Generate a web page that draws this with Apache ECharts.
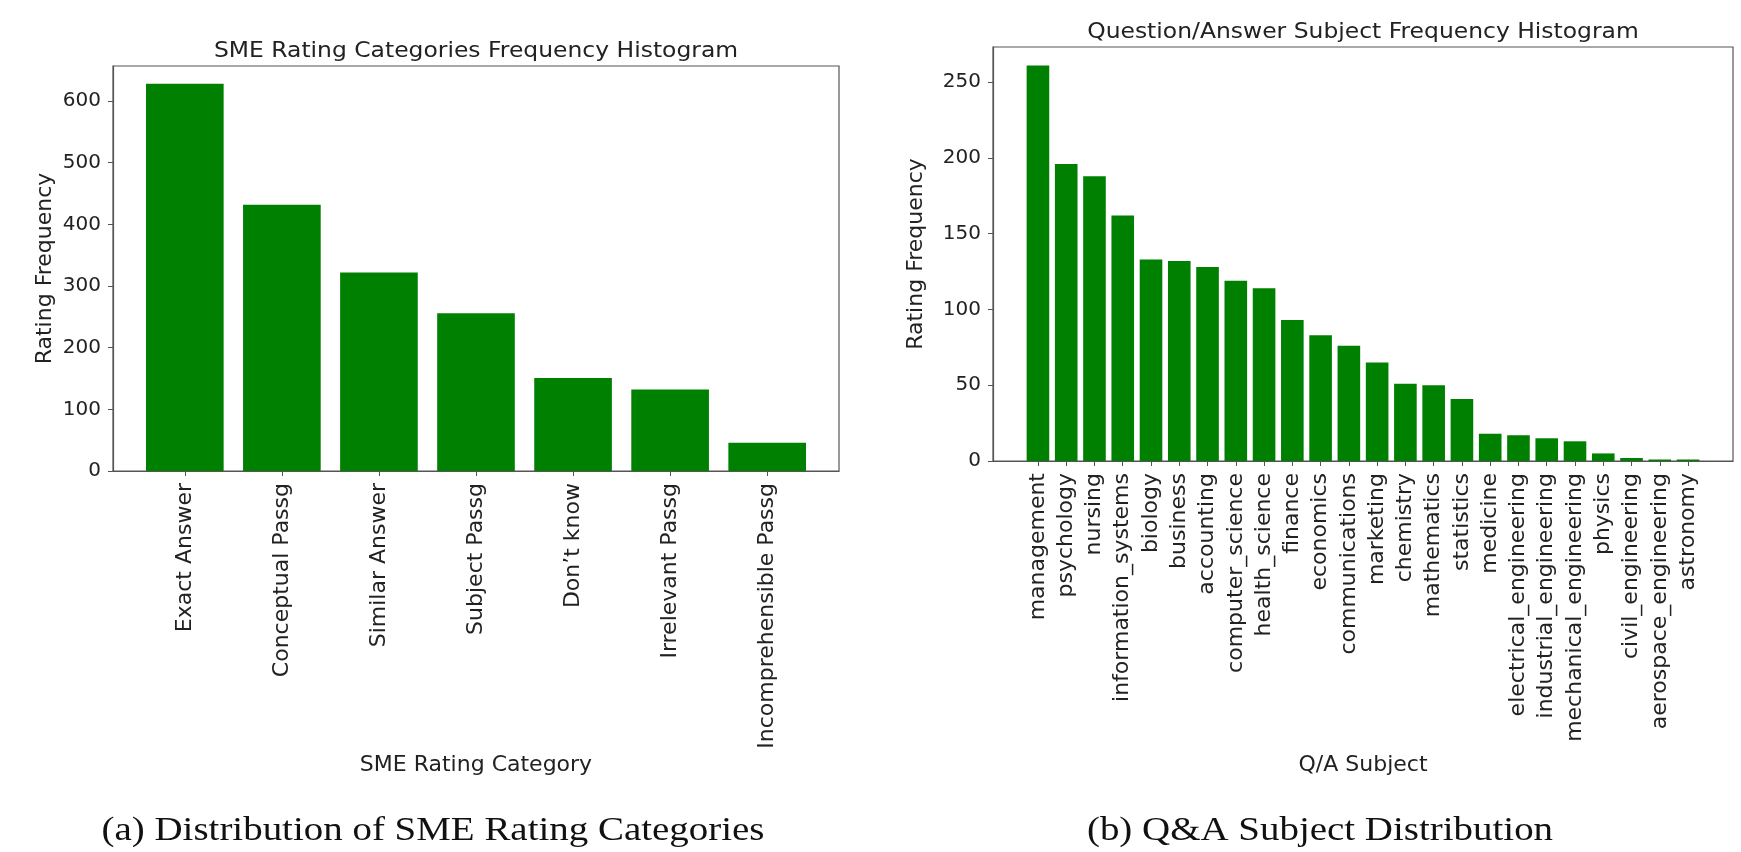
<!DOCTYPE html>
<html>
<head>
<meta charset="utf-8">
<script src="https://cdn.jsdelivr.net/npm/echarts@6/dist/echarts.min.js"></script>
<style>
html,body{margin:0;padding:0;background:#fff;}
#chart{width:1741px;height:852px;}
</style>
</head>
<body>
<div id="chart"></div>
<script>
const smeCategories = ["Exact Answer", "Conceptual Passg", "Similar Answer", "Subject Passg", "Don\u2019t know", "Irrelevant Passg", "Incomprehensible Passg"];
const smeCounts = [628, 432, 322, 256, 151, 132, 46];
const smeYTicks = [0, 100, 200, 300, 400, 500, 600];

const subjects = ["management", "psychology", "nursing", "information_systems", "biology", "business", "accounting", "computer_science", "health_science", "finance", "economics", "communications", "marketing", "chemistry", "mathematics", "statistics", "medicine", "electrical_engineering", "industrial_engineering", "mechanical_engineering", "physics", "civil_engineering", "aerospace_engineering", "astronomy"];
const subjectCounts = [261, 196, 188, 162, 133, 132, 128, 119, 114, 93, 83, 76, 65, 51, 50, 41, 18, 17, 15, 13, 5, 2, 1, 1];
const subjectYTicks = [0, 50, 100, 150, 200, 250];

const W = 1741, H = 852;
const FONT = 'DejaVu Sans';
const TXT = '#222';
const AX = '#555';
const GREEN = '#008000';

// matplotlib-like layout: bar width 0.8, 5% x-margins, 5% y headroom
function xLimits(n) {
  const lo = -0.4, hi = n - 1 + 0.4, m = 0.05 * (hi - lo);
  return [lo - m, hi + m];
}
const g1 = {left: 113, right: W - 839, top: 66, bottom: H - 471};
const g2 = {left: 993, right: W - 1733, top: 47, bottom: H - 461};
const xl1 = xLimits(smeCategories.length);
const xl2 = xLimits(subjects.length);
const bw1 = 0.8 * (W - g1.left - g1.right) / (xl1[1] - xl1[0]);
const bw2 = 0.8 * (W - g2.left - g2.right) / (xl2[1] - xl2[0]);
const yMax1 = Math.max(...smeCounts) * 1.046;
const yMax2 = Math.max(...subjectCounts) * 1.047;

function idx(n) { return Array.from({length: n}, (_, i) => i); }

function makeX(gi, lim, cats, name, gap) {
  return {
    type: 'value', gridIndex: gi, min: lim[0], max: lim[1],
    splitLine: {show: false},
    axisLine: {show: true, onZero: false, lineStyle: {color: AX, width: 1.2}},
    axisTick: {show: true, inside: false, customValues: idx(cats.length), length: 5, lineStyle: {color: AX}},
    axisLabel: {show: true, customValues: idx(cats.length), rotate: 90, margin: 12,
      fontFamily: FONT, fontSize: 22, color: TXT,
      formatter: v => cats[Math.round(v)]},
    name: name, nameLocation: 'middle', nameGap: gap,
    nameTextStyle: {fontFamily: FONT, fontSize: 22, color: TXT}
  };
}
function makeY(gi, max, ticks, gap) {
  return {
    type: 'value', gridIndex: gi, min: 0, max: max,
    splitLine: {show: false},
    axisLine: {show: true, onZero: false, lineStyle: {color: AX, width: 1.2}},
    axisTick: {show: true, inside: false, customValues: ticks, length: 5, lineStyle: {color: AX}},
    axisLabel: {show: true, customValues: ticks, margin: 12,
      fontFamily: FONT, fontSize: 20, color: TXT},
    name: 'Rating Frequency', nameLocation: 'middle', nameGap: gap, nameRotate: 90,
    nameTextStyle: {fontFamily: FONT, fontSize: 22, color: TXT}
  };
}

const chart = echarts.init(document.getElementById('chart'), null, {renderer: 'canvas'});
chart.setOption({
  backgroundColor: '#fff',
  animation: false,
  grid: [
    Object.assign({show: true, borderColor: AX, borderWidth: 1.2, backgroundColor: 'transparent'}, g1),
    Object.assign({show: true, borderColor: AX, borderWidth: 1.2, backgroundColor: 'transparent'}, g2)
  ],
  xAxis: [
    makeX(0, xl1, smeCategories, 'SME Rating Category', 283),
    makeX(1, xl2, subjects, 'Q/A Subject', 293)
  ],
  yAxis: [
    makeY(0, yMax1, smeYTicks, 57),
    makeY(1, yMax2, subjectYTicks, 66)
  ],
  series: [
    {type: 'bar', xAxisIndex: 0, yAxisIndex: 0, barWidth: bw1,
     itemStyle: {color: GREEN}, data: smeCounts.map((v, i) => [i, v])},
    {type: 'bar', xAxisIndex: 1, yAxisIndex: 1, barWidth: bw2,
     itemStyle: {color: GREEN}, data: subjectCounts.map((v, i) => [i, v])}
  ],
  graphic: [
    {type: 'text', x: (g1.left + W - g1.right) / 2, y: 51, scaleX: 1.09,
     style: {text: 'SME Rating Categories Frequency Histogram', fontFamily: FONT, fontSize: 21.5,
       fill: TXT, align: 'center', verticalAlign: 'middle'}},
    {type: 'text', x: (g2.left + W - g2.right) / 2, y: 32, scaleX: 1.09,
     style: {text: 'Question/Answer Subject Frequency Histogram', fontFamily: FONT, fontSize: 21.5,
       fill: TXT, align: 'center', verticalAlign: 'middle'}},
    {type: 'text', x: 433, y: 831, scaleX: 1.18,
     style: {text: '(a) Distribution of SME Rating Categories', fontFamily: 'Liberation Serif', fontSize: 33,
       fill: '#111', align: 'center', verticalAlign: 'middle'}},
    {type: 'text', x: 1320, y: 831, scaleX: 1.18,
     style: {text: '(b) Q&A Subject Distribution', fontFamily: 'Liberation Serif', fontSize: 33,
       fill: '#111', align: 'center', verticalAlign: 'middle'}}
  ]
});
</script>
</body>
</html>
